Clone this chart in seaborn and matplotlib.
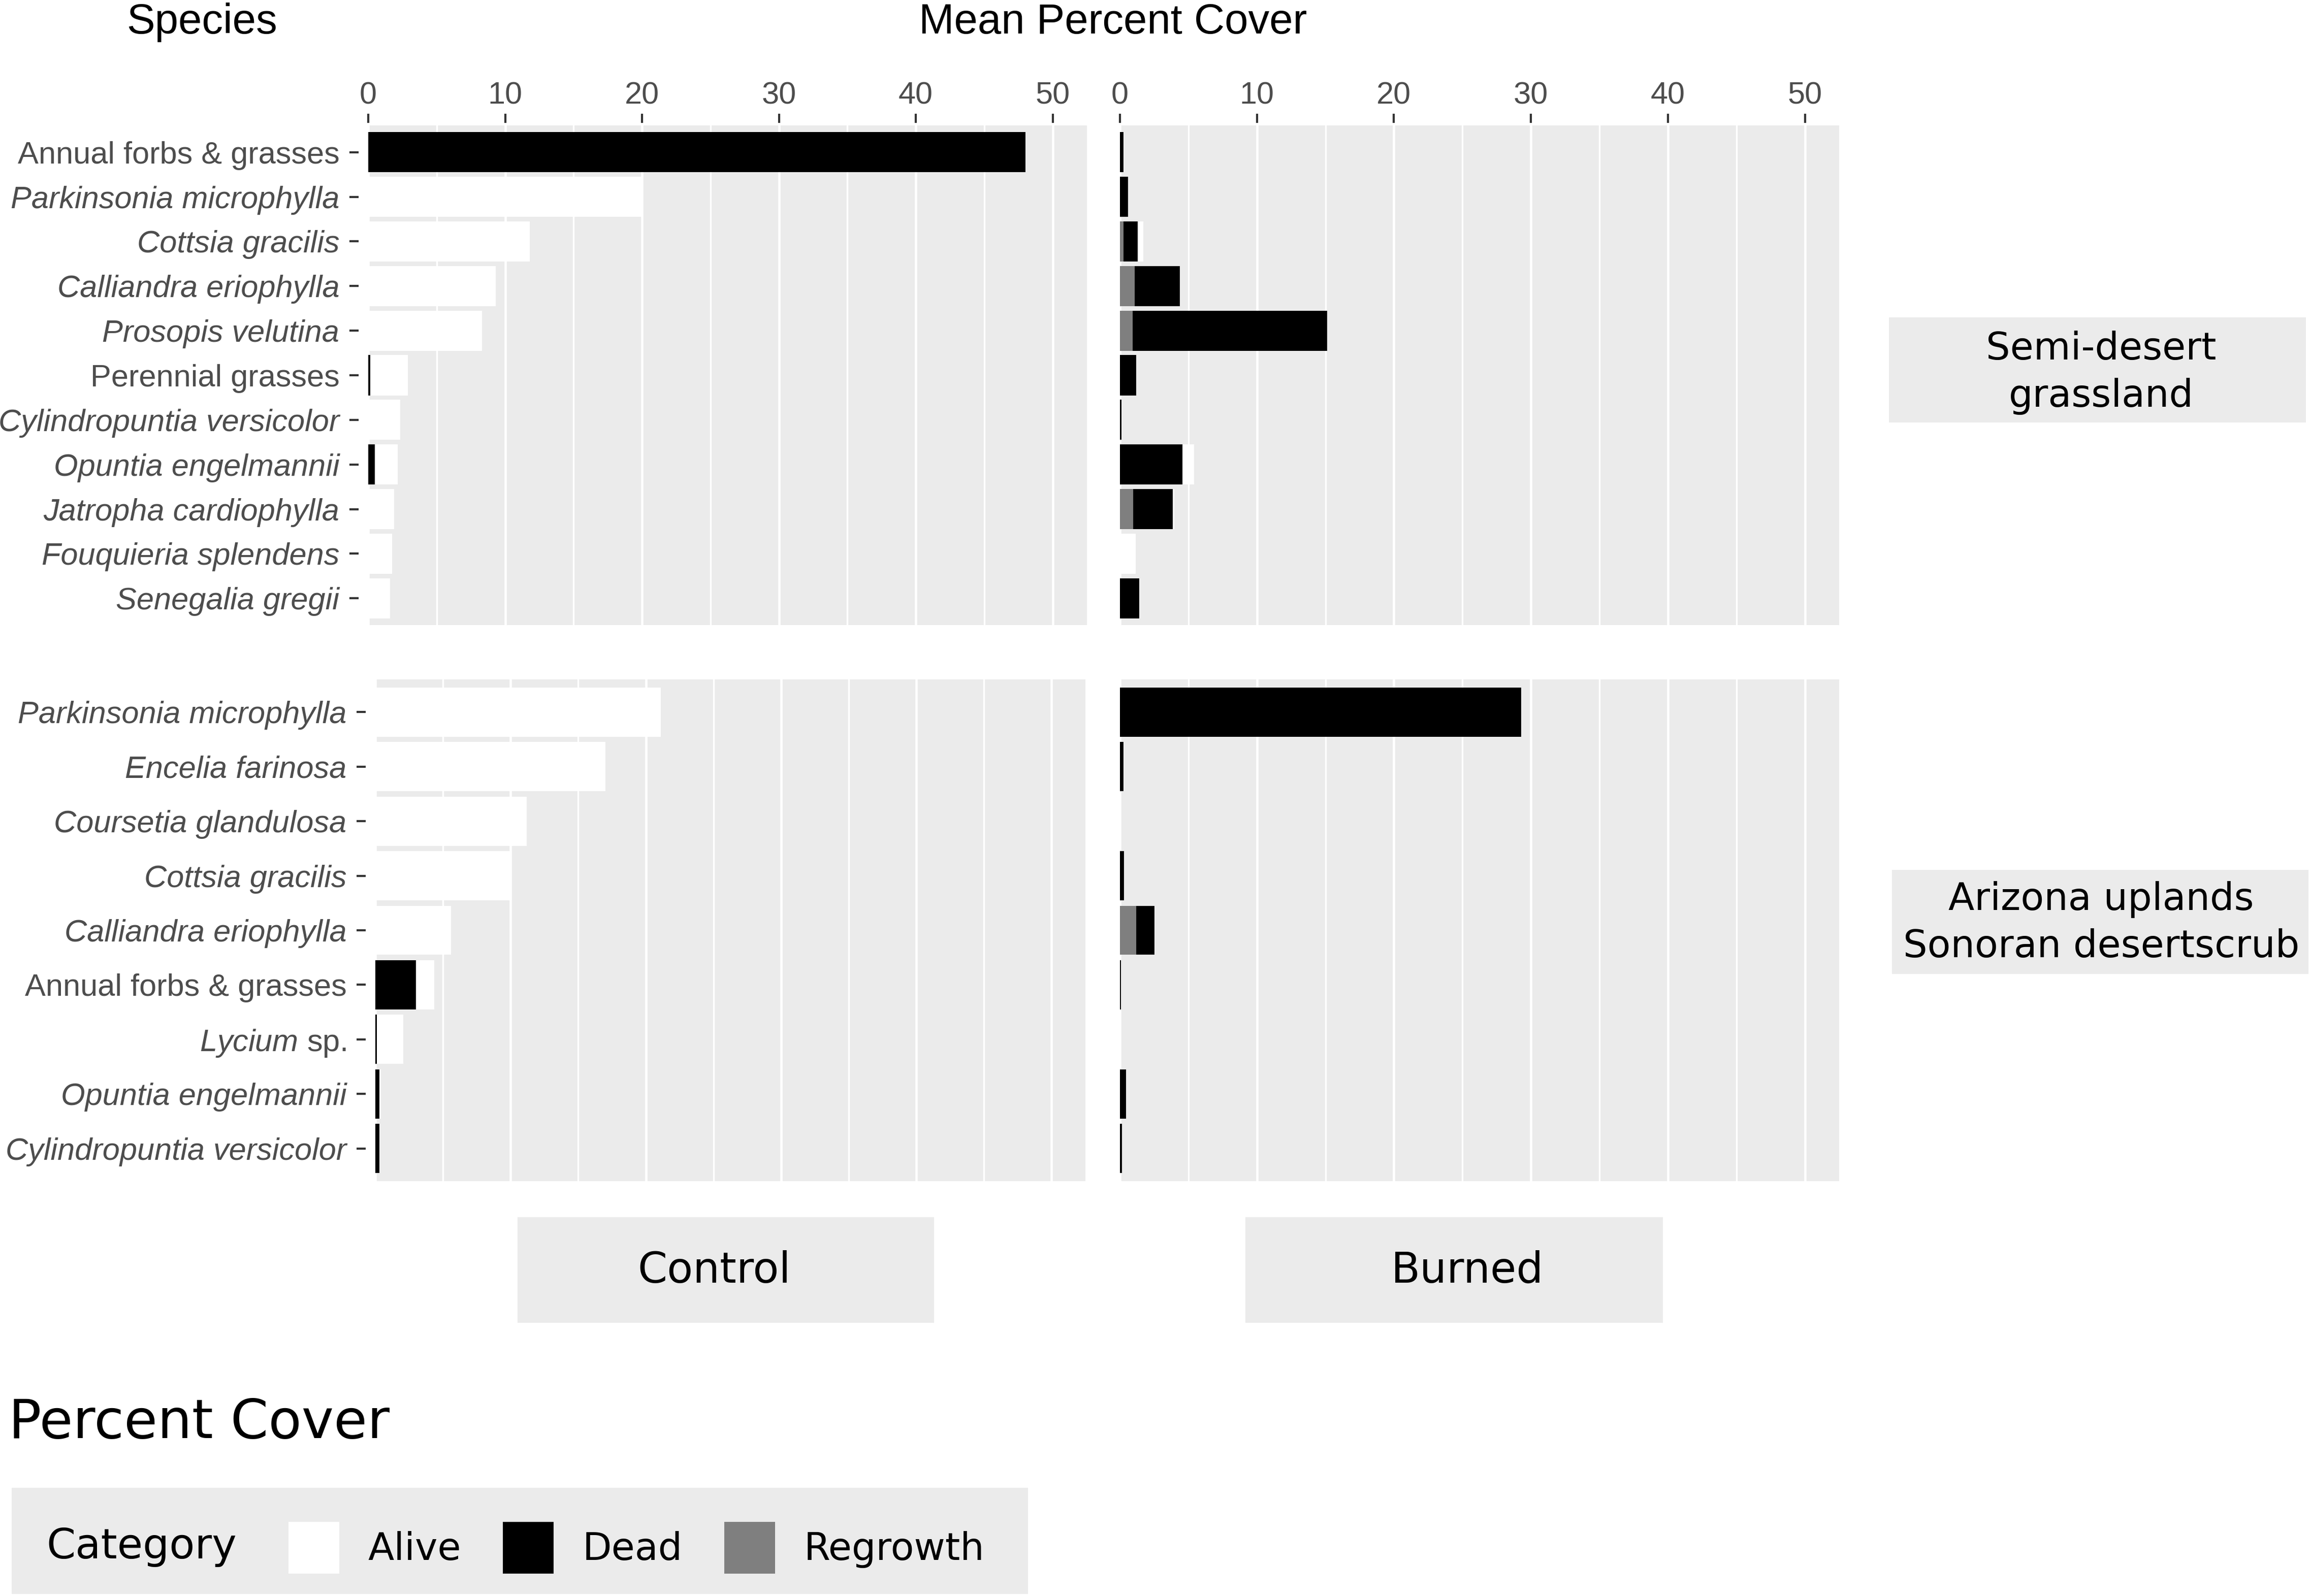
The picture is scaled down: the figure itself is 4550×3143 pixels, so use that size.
import pandas as pd
import seaborn as sns
import matplotlib.pyplot as plt
from matplotlib.patches import Rectangle, Patch

plt.rcParams['font.family'] = ['Liberation Sans', 'DejaVu Sans']
plt.rcParams['mathtext.fontset'] = 'custom'
plt.rcParams['mathtext.it'] = 'Liberation Sans:italic'
plt.rcParams['mathtext.rm'] = 'Liberation Sans'

# ---------------------------------------------------------------------------
# data (mean percent cover)

grass_species = ['Annual forbs & grasses', 'Parkinsonia microphylla', 'Cottsia gracilis',
                 'Calliandra eriophylla', 'Prosopis velutina', 'Perennial grasses',
                 'Cylindropuntia versicolor', 'Opuntia engelmannii', 'Jatropha cardiophylla',
                 'Fouquieria splendens', 'Senegalia gregii']
grass_control_alive = [0, 20.0, 11.8, 9.3, 8.3, 2.75, 2.35, 1.65, 1.9, 1.75, 1.6]
grass_control_dead = [48.0, 0, 0, 0, 0, 0.15, 0, 0.5, 0, 0, 0]
grass_control_regrowth = [0, 0, 0, 0, 0, 0, 0, 0, 0, 0, 0]
grass_burned_alive = [0, 0, 0.42, 0, 0, 0, 0, 0.88, 0.14, 1.14, 0]
grass_burned_dead = [0.25, 0.6, 1.03, 3.3, 14.2, 1.2, 0.1, 4.55, 2.88, 0, 1.42]
grass_burned_regrowth = [0, 0, 0.25, 1.07, 0.92, 0, 0, 0, 0.96, 0, 0]

upland_species = ['Parkinsonia microphylla', 'Encelia farinosa', 'Coursetia glandulosa',
                  'Cottsia gracilis', 'Calliandra eriophylla', 'Annual forbs & grasses',
                  'Lycium sp.', 'Opuntia engelmannii', 'Cylindropuntia versicolor']
upland_control_alive = [21.1, 17.0, 11.2, 10.1, 5.6, 1.35, 1.95, 0.1, 0]
upland_control_dead = [0, 0, 0, 0, 0, 3.0, 0.1, 0.3, 0.3]
upland_control_regrowth = [0, 0, 0, 0, 0, 0, 0, 0, 0]
upland_burned_alive = [0, 0, 0, 0, 0, 0, 0, 0, 0]
upland_burned_dead = [29.3, 0.25, 0, 0.3, 1.35, 0.07, 0, 0.45, 0.15]
upland_burned_regrowth = [0, 0, 0, 0, 1.17, 0, 0, 0, 0]

categories = ['Alive', 'Dead', 'Regrowth']
colours = {'Alive': 'white', 'Dead': 'black', 'Regrowth': '#7F7F7F'}
not_italic = ['Annual forbs & grasses', 'Perennial grasses', 'Lycium sp.']

# ---------------------------------------------------------------------------

W, H = 4550, 3143
GREY = '#EBEBEB'


def fx(px):
    return px / W


def fy(py):
    return 1 - py / H


def stack(species, alive, dead, regrowth):
    df = pd.DataFrame({'species': species, 'Alive': alive, 'Dead': dead, 'Regrowth': regrowth})
    # ggplot-style stack: Regrowth nearest zero, then Dead, then Alive
    df['Regrowth_end'] = df['Regrowth']
    df['Dead_end'] = df['Regrowth'] + df['Dead']
    df['Alive_end'] = df['Dead_end'] + df['Alive']
    return df


def draw_panel(ax, df, top_row, left_col):
    order = list(df['species'])
    for cat in categories:
        sns.barplot(data=df, y='species', x=cat + '_end', order=order, orient='h',
                    color=colours[cat], saturation=1, width=0.9, errorbar=None,
                    linewidth=0, ax=ax)
    n = len(order)
    ax.set_ylim(n - 1 + 0.6, -0.6)
    ax.set_xlim(0, 52.5)
    ax.set_xlabel('')
    ax.set_ylabel('')
    ax.set_facecolor(GREY)
    for s in ax.spines.values():
        s.set_visible(False)
    # move spines first: this resets the tick objects
    if top_row:
        ax.spines['top'].set_position(('outward', 1.2))
    if left_col:
        ax.spines['left'].set_position(('outward', 4.5))
    ax.set_xticks(range(0, 51, 10))
    ax.set_xticks(range(5, 50, 10), minor=True)
    ax.set_axisbelow(True)
    ax.grid(axis='x', which='major', color='white', linewidth=1.1)
    ax.grid(axis='x', which='minor', color='white', linewidth=0.8)
    ax.grid(axis='y', visible=False)
    ax.tick_params(which='minor', length=0)
    ax.xaxis.set_ticks_position('top')
    if top_row:
        ax.tick_params(axis='x', which='major', top=True, labeltop=True, bottom=False,
                       labelbottom=False, length=4.3, width=1.0, color='#333333',
                       pad=1.5, labelsize=14.7, labelcolor='#4D4D4D')
    else:
        ax.tick_params(axis='x', which='both', top=False, labeltop=False, bottom=False,
                       labelbottom=False)
    if left_col:
        ax.tick_params(axis='y', length=4.3, width=1.0, color='#333333', pad=4.8,
                       labelsize=14.7, labelcolor='#4D4D4D')
        labels = [r'$\mathit{Lycium}$ sp.' if s == 'Lycium sp.' else s for s in order]
        ax.set_yticks(range(n), labels=labels)
        for t, s in zip(ax.get_yticklabels(), order):
            if s not in not_italic:
                t.set_fontstyle('italic')
    else:
        ax.tick_params(axis='y', left=False, labelleft=False)


fig = plt.figure(figsize=(W / 300, H / 300), dpi=300)

panels = [
    ((725, 247, 2140, 1231), stack(grass_species, grass_control_alive, grass_control_dead, grass_control_regrowth), True, True),
    ((2205, 247, 3621, 1231), stack(grass_species, grass_burned_alive, grass_burned_dead, grass_burned_regrowth), True, False),
    ((739, 1338, 2137, 2326), stack(upland_species, upland_control_alive, upland_control_dead, upland_control_regrowth), False, True),
    ((2205, 1338, 3621, 2326), stack(upland_species, upland_burned_alive, upland_burned_dead, upland_burned_regrowth), False, False),
]
for (x0, y0, x1, y1), df, top_row, left_col in panels:
    ax = fig.add_axes([fx(x0), fy(y1), (x1 - x0) / W, (y1 - y0) / H])
    draw_panel(ax, df, top_row, left_col)

# axis titles
fig.text(fx(398), fy(66), 'Species', ha='center', va='baseline', fontsize=20)
fig.text(fx(2191), fy(66), 'Mean Percent Cover', ha='center', va='baseline', fontsize=20)


def strip(x0, y0, x1, y1):
    fig.add_artist(Rectangle((fx(x0), fy(y1)), (x1 - x0) / W, (y1 - y0) / H,
                             transform=fig.transFigure, facecolor=GREY, edgecolor='none'))


def dv_text(x, y, s, size, ha='center'):
    fig.text(fx(x), fy(y), s, ha=ha, va='baseline', fontsize=size, family='DejaVu Sans')


# habitat strips (right)
strip(3719, 625, 4540, 832)
dv_text(4137, 708, 'Semi-desert', 18)
dv_text(4137, 801, 'grassland', 18)
strip(3725, 1713, 4545, 1918)
dv_text(4137, 1792, 'Arizona uplands', 18)
dv_text(4137, 1885, 'Sonoran desertscrub', 18)

# treatment strips (bottom)
strip(1019, 2397, 1839, 2605)
dv_text(1406, 2526, 'Control', 20)
strip(2452, 2397, 3274, 2605)
dv_text(2889, 2526, 'Burned', 20)

# legend
dv_text(17, 2832, 'Percent Cover', 25.7, ha='left')
strip(23, 2930, 2024, 3139)
dv_text(91, 3069, 'Category', 19.7, ha='left')
handles = [Patch(facecolor=colours[c], edgecolor='none') for c in categories]
fig.legend(handles, categories, ncol=3, loc='center left',
           bbox_to_anchor=(fx(568), fy(3048)), frameon=False,
           prop={'family': 'DejaVu Sans', 'size': 18},
           handlelength=1.333, handleheight=1.715, handletextpad=0.75,
           columnspacing=1.1, borderpad=0, borderaxespad=0)

fig.savefig('out.png', dpi=300)
